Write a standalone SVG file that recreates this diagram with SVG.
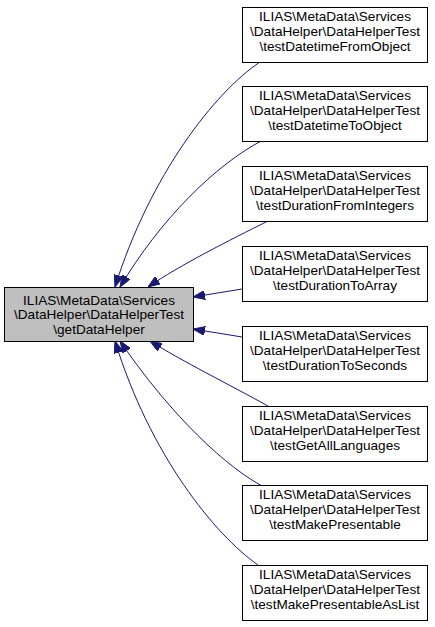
<svg xmlns="http://www.w3.org/2000/svg" width="435" height="627" viewBox="0 0 435 627">
<style>
.node rect{stroke:#000;stroke-width:1}
.main rect{fill:#bfbfbf}
.leaf rect{fill:#fff}
text{font-family:"Liberation Sans",Arial,sans-serif;font-size:13.6px;text-anchor:middle;fill:#000}
.edge{fill:none;stroke:#191970;stroke-width:1}
</style>
<defs>
<marker id="ah" viewBox="0 0 12 9" refX="12" refY="4.5" markerWidth="12" markerHeight="9" markerUnits="userSpaceOnUse" orient="auto">
<path d="M0,0 L12,4.5 L0,9 z" fill="#191970" stroke="#191970" stroke-width="1"/>
</marker>
</defs>
<rect width="435" height="627" fill="#fff"/>
<g id="connectors">
<path class="edge" marker-end="url(#ah)" d="M260,62 C215,92 150,175 115,287"/>
<path class="edge" marker-end="url(#ah)" d="M263,140 C215,165 160,220 120,287"/>
<path class="edge" marker-end="url(#ah)" d="M268,221 C230,240 180,265 148,287"/>
<path class="edge" marker-end="url(#ah)" d="M242,289 L193,297"/>
<path class="edge" marker-end="url(#ah)" d="M242,337 L193,329"/>
<path class="edge" marker-end="url(#ah)" d="M268,406 C230,385 180,360 150,341"/>
<path class="edge" marker-end="url(#ah)" d="M262,486 C215,460 160,400 120,341"/>
<path class="edge" marker-end="url(#ah)" d="M258,565 C215,535 150,455 115,341"/>
</g>
<g id="getDataHelper" class="node main">
<rect x="4.5" y="287.5" width="189" height="54"/>
<text x="99" y="304.5">ILIAS\MetaData\Services</text>
<text x="99" y="319">\DataHelper\DataHelperTest</text>
<text x="99" y="333.5">\getDataHelper</text>
</g>
<g id="testDatetimeFromObject" class="node leaf">
<rect x="242.5" y="7.5" width="185" height="55"/>
<text x="335" y="21">ILIAS\MetaData\Services</text>
<text x="335" y="36">\DataHelper\DataHelperTest</text>
<text x="335" y="50.5">\testDatetimeFromObject</text>
</g>
<g id="testDatetimeToObject" class="node leaf">
<rect x="242.5" y="86.5" width="185" height="55"/>
<text x="335" y="100">ILIAS\MetaData\Services</text>
<text x="335" y="115">\DataHelper\DataHelperTest</text>
<text x="335" y="129.5">\testDatetimeToObject</text>
</g>
<g id="testDurationFromIntegers" class="node leaf">
<rect x="242.5" y="166.5" width="185" height="55"/>
<text x="335" y="180">ILIAS\MetaData\Services</text>
<text x="335" y="195">\DataHelper\DataHelperTest</text>
<text x="335" y="209.5">\testDurationFromIntegers</text>
</g>
<g id="testDurationToArray" class="node leaf">
<rect x="242.5" y="246.5" width="185" height="55"/>
<text x="335" y="260">ILIAS\MetaData\Services</text>
<text x="335" y="275">\DataHelper\DataHelperTest</text>
<text x="335" y="289.5">\testDurationToArray</text>
</g>
<g id="testDurationToSeconds" class="node leaf">
<rect x="242.5" y="326.5" width="185" height="55"/>
<text x="335" y="340">ILIAS\MetaData\Services</text>
<text x="335" y="355">\DataHelper\DataHelperTest</text>
<text x="335" y="369.5">\testDurationToSeconds</text>
</g>
<g id="testGetAllLanguages" class="node leaf">
<rect x="242.5" y="406.5" width="185" height="55"/>
<text x="335" y="420">ILIAS\MetaData\Services</text>
<text x="335" y="435">\DataHelper\DataHelperTest</text>
<text x="335" y="449.5">\testGetAllLanguages</text>
</g>
<g id="testMakePresentable" class="node leaf">
<rect x="242.5" y="485.5" width="185" height="55"/>
<text x="335" y="499">ILIAS\MetaData\Services</text>
<text x="335" y="514">\DataHelper\DataHelperTest</text>
<text x="335" y="528.5">\testMakePresentable</text>
</g>
<g id="testMakePresentableAsList" class="node leaf">
<rect x="242.5" y="565.5" width="185" height="55"/>
<text x="335" y="579">ILIAS\MetaData\Services</text>
<text x="335" y="594">\DataHelper\DataHelperTest</text>
<text x="335" y="608.5">\testMakePresentableAsList</text>
</g>
</svg>
